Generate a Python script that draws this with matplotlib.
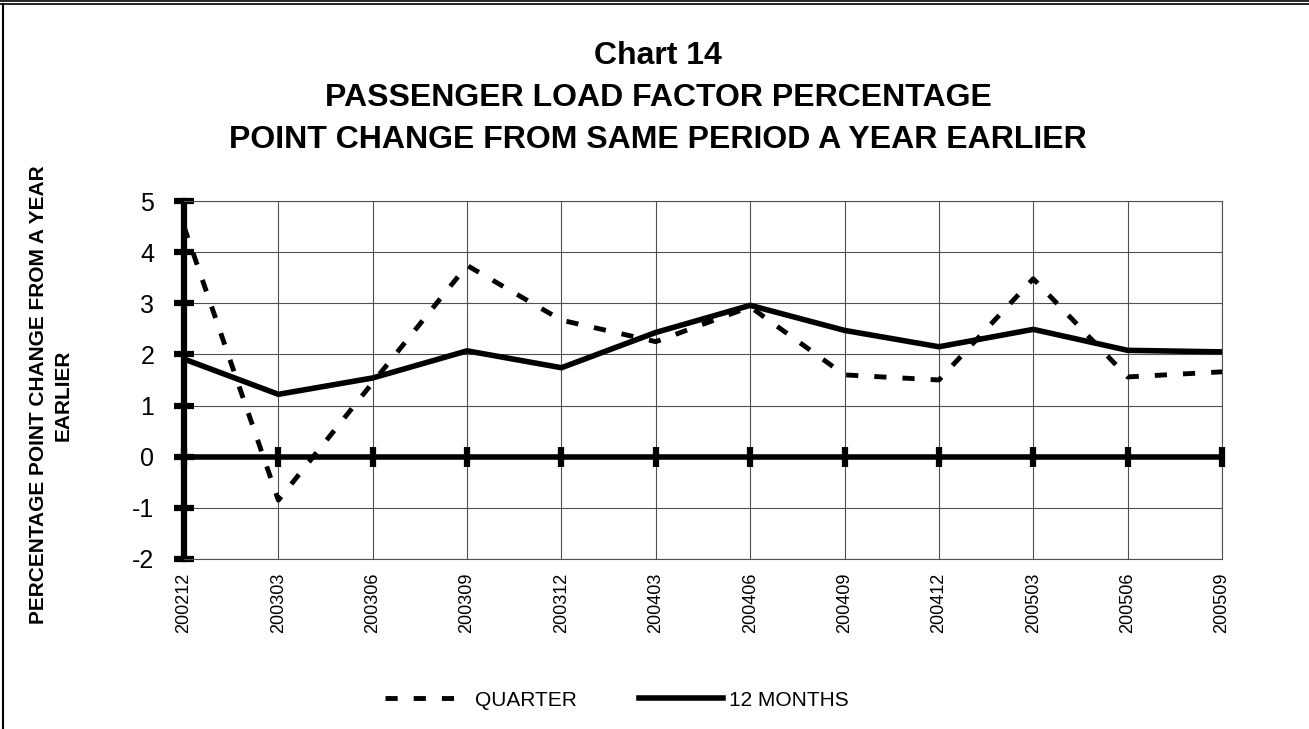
import matplotlib
matplotlib.use("Agg")
import matplotlib.pyplot as plt
from matplotlib.lines import Line2D
import numpy as np

plt.rcParams['font.family'] = ['Liberation Sans', 'DejaVu Sans']

# Data
periods = ['200212', '200303', '200306', '200309', '200312', '200403',
           '200406', '200409', '200412', '200503', '200506', '200509']
quarter = [4.5, -0.85, 1.45, 3.74, 2.67, 2.25, 2.93, 1.6, 1.5, 3.48, 1.56, 1.66]
twelve_months = [1.91, 1.22, 1.54, 2.07, 1.74, 2.43, 2.96, 2.47, 2.15, 2.49, 2.08, 2.05]
y_ticks = [-2, -1, 0, 1, 2, 3, 4, 5]

title_lines = ['Chart 14',
               'PASSENGER LOAD FACTOR PERCENTAGE',
               'POINT CHANGE FROM SAME PERIOD A YEAR EARLIER']
y_label = 'PERCENTAGE POINT CHANGE FROM A YEAR\nEARLIER'

W, H = 1309, 729
fig = plt.figure(figsize=(W / 100, H / 100), dpi=100)
ax = fig.add_axes([184 / W, 1 - 559 / H, (1222 - 184) / W, (559 - 201) / H])

x = np.arange(len(periods))

ax.plot(x, quarter, color='black', lw=3.5, dashes=(2.5, 3.3), label='QUARTER', zorder=4)
ax.plot(x, twelve_months, color='black', lw=4, solid_joinstyle='miter',
        label='12 MONTHS', zorder=5)

# thick zero line with small upright marks at each period
ax.axhline(0, color='black', lw=4, zorder=3)
ax.plot(x, np.zeros(len(x)), ls='none', marker='|', ms=14, mew=4.5,
        color='black', clip_on=False, zorder=6)

ax.set_xlim(0, len(periods) - 1)
ax.set_ylim(min(y_ticks), max(y_ticks))
ax.set_yticks(y_ticks)
ax.set_xticks(x)
ax.set_xticklabels(periods, rotation=90, fontsize=13)
ax.set_yticklabels([str(v) for v in y_ticks], fontsize=18)

ax.grid(True, color='#505050', lw=0.8)
ax.set_axisbelow(True)

ax.tick_params(axis='x', length=0, pad=10)
ax.tick_params(axis='y', direction='inout', length=15, width=4.5, pad=14)

ax.spines['left'].set_linewidth(4.5)
ax.spines['left'].set_color('black')
for side in ['top', 'right', 'bottom']:
    ax.spines[side].set_linewidth(0.8)
    ax.spines[side].set_color('#505050')

# titles
for line, ypx in zip(title_lines, [56, 98, 140]):
    fig.text(658 / W, 1 - ypx / H, line, ha='center', va='center',
             fontsize=23, fontweight='bold')

fig.text(51 / W, 1 - 395 / H, y_label, rotation=90, ha='center', va='center',
         fontsize=15, fontweight='bold', multialignment='center', linespacing=1.35)

fig.legend(loc='center', bbox_to_anchor=(617 / W, 1 - 700 / H), ncol=2,
           frameon=False, fontsize=15, handlelength=4, handletextpad=0.3,
           columnspacing=3)

# page frame
fig.add_artist(Line2D([0, 1], [1 - 1 / H, 1 - 1 / H], transform=fig.transFigure,
                      color='black', lw=1.2))
fig.add_artist(Line2D([0, 1], [1 - 4 / H, 1 - 4 / H], transform=fig.transFigure,
                      color='black', lw=1.2))
fig.add_artist(Line2D([3 / W, 3 / W], [0, 1 - 4 / H], transform=fig.transFigure,
                      color='black', lw=1.5))

fig.savefig('out.png', dpi=100)
